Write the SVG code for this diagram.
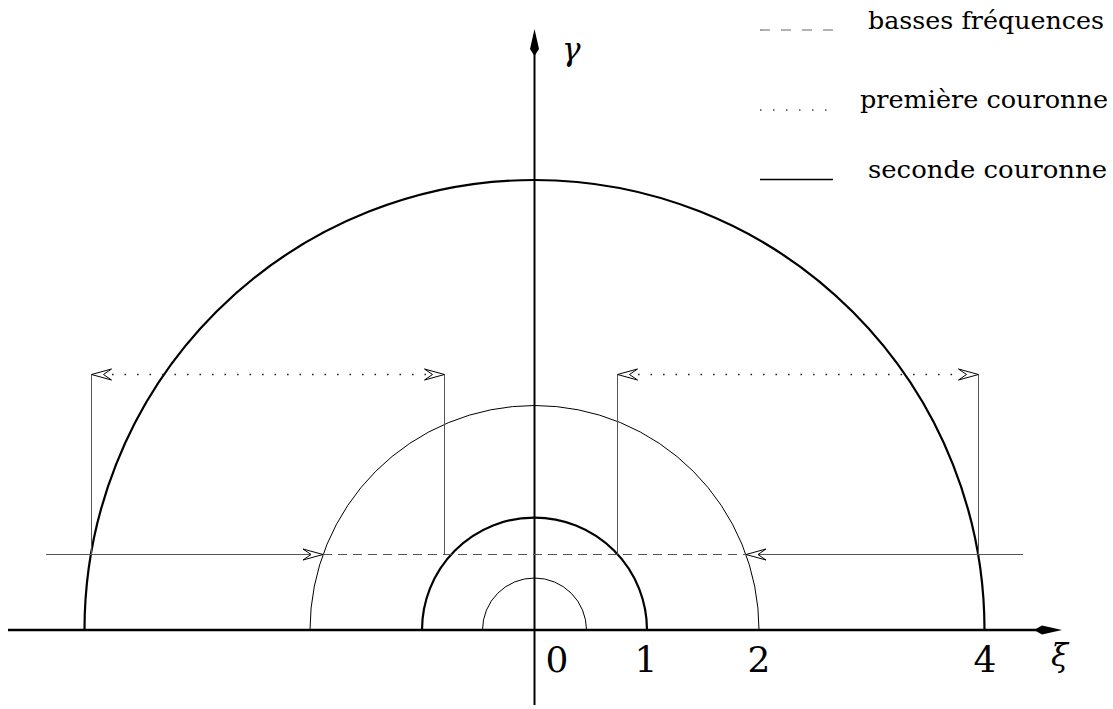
<svg xmlns="http://www.w3.org/2000/svg" width="1113" height="709" viewBox="0 0 1113 709">
<style>
  .thick{fill:none;stroke:#000;stroke-width:2.2}
  .thin{fill:none;stroke:#000;stroke-width:1}
  .guide{fill:none;stroke:#555;stroke-width:1}
  .dash{fill:none;stroke:#555;stroke-width:1;stroke-dasharray:9 6}
  .dot{fill:none;stroke:#222;stroke-width:1.6;stroke-dasharray:1.6 10.9}
  .axis{fill:none;stroke:#000;stroke-width:2.5}
</style>
<defs>
  <path id="openhead" d="M0,0 L20,-5.5 L12,0 L20,5.5 Z" fill="#fff" stroke="#000" stroke-width="1" stroke-linejoin="miter"/>
</defs>

<g id="axes">
  <line class="axis" x1="8" y1="630" x2="1040" y2="630"/>
  <polygon points="1034,630 1042,625.5 1062,630 1042,634.5" fill="#000"/>
  <line x1="534.5" y1="705" x2="534.5" y2="50" stroke="#000" stroke-width="2"/>
  <polygon points="534.5,29 539,49 534.5,56 530,49" fill="#000"/>
  <text font-family="DejaVu Serif, serif" font-style="italic" font-size="31" x="562" y="60">γ</text>
  <text font-family="DejaVu Serif, serif" font-style="italic" font-size="31" x="1051" y="666">ξ</text>
  <g font-family="DejaVu Serif, serif" font-size="36" text-anchor="middle">
    <text x="557" y="672">0</text>
    <text x="646" y="672">1</text>
    <text x="759" y="672">2</text>
    <text x="985" y="672">4</text>
  </g>
</g>

<g id="circles">
  <path id="c05" class="thin" d="M482.5,630 A52,52 0 0 1 586.5,630"/>
  <path id="c1" class="thick" d="M422,630 A112.5,112.5 0 0 1 647,630"/>
  <path id="c2" class="thin" d="M310,630 A224.5,224.5 0 0 1 759,630"/>
  <path id="c4" class="thick" d="M84.5,630 A450,450 0 0 1 984.5,630"/>
</g>

<g id="connectors">
  <line class="guide" x1="46" y1="554.5" x2="323" y2="554.5"/>
  <line class="dash" x1="323" y1="554.5" x2="746" y2="554.5"/>
  <line class="guide" x1="746" y1="554.5" x2="1023" y2="554.5"/>
  <line class="guide" x1="91.5" y1="554.5" x2="91.5" y2="374.5"/>
  <line class="guide" x1="444.5" y1="554.5" x2="444.5" y2="374.5"/>
  <line class="guide" x1="617.5" y1="554.5" x2="617.5" y2="374.5"/>
  <line class="guide" x1="978.5" y1="554.5" x2="978.5" y2="374.5"/>
  <line class="dot" x1="112" y1="374.5" x2="426" y2="374.5"/>
  <line class="dot" x1="638" y1="374.5" x2="960" y2="374.5"/>
  <use href="#openhead" transform="translate(323,554.5) rotate(180)"/>
  <use href="#openhead" transform="translate(746,554.5)"/>
  <use href="#openhead" transform="translate(91.5,374.5)"/>
  <use href="#openhead" transform="translate(444.5,374.5) rotate(180)"/>
  <use href="#openhead" transform="translate(617.5,374.5)"/>
  <use href="#openhead" transform="translate(978.5,374.5) rotate(180)"/>
</g>

<g id="legend" font-family="DejaVu Serif, serif" font-size="25">
  <line x1="760" y1="30" x2="833" y2="30" stroke="#666" stroke-width="1.2" stroke-dasharray="10 11"/>
  <text x="868" y="29" textLength="236" lengthAdjust="spacingAndGlyphs">basses fréquences</text>
  <line x1="760" y1="110" x2="830" y2="110" stroke="#444" stroke-width="1.5" stroke-dasharray="1.5 11.5"/>
  <text x="860" y="108" textLength="248" lengthAdjust="spacingAndGlyphs">première couronne</text>
  <line x1="760" y1="179.5" x2="833" y2="179.5" stroke="#000" stroke-width="1.5"/>
  <text x="868" y="178" textLength="239" lengthAdjust="spacingAndGlyphs">seconde couronne</text>
</g>
</svg>
